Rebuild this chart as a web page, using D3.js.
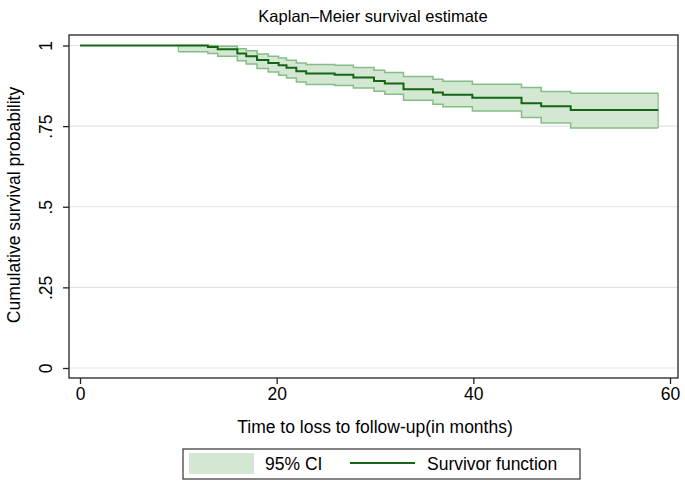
<!DOCTYPE html>
<html>
<head>
<meta charset="utf-8">
<script src="https://cdn.jsdelivr.net/npm/d3@7"></script>
<style>
  html, body { margin: 0; padding: 0; background: #fff; }
  text { font-family: "Liberation Sans", Arial, Helvetica, sans-serif; fill: #000; }
</style>
</head>
<body>
<svg id="chart" width="685" height="485"></svg>
<script>
// Kaplan–Meier step data (time in months, survival, 95% CI)
const times    = [0, 10, 13, 14, 16, 16.9, 18, 19.15, 20.2, 21, 22, 23, 25.9, 27.8, 29.9, 31, 32.9, 35.9, 36.9, 39.9, 44.9, 46.9, 49.9];
const survival = [1, 1, .995, .988, .975, .967, .955, .946, .939, .931, .920, .913, .909, .901, .890, .882, .864, .854, .847, .838, .821, .812, .800];
const ciLower  = [null, .981, .975, .967, .953, .943, .929, .918, .908, .899, .887, .879, .876, .868, .858, .849, .830, .818, .810, .797, .777, .760, .744];
const ciUpper  = [null, 1, 1, .998, .990, .984, .974, .967, .961, .954, .946, .941, .939, .932, .923, .916, .904, .895, .889, .880, .870, .857, .852];
const endTime  = 58.8;
const xTicks = [0, 20, 40, 60];
const yTicks = [0, .25, .5, .75, 1];
const yTickLabels = ["0", ".25", ".5", ".75", "1"];

const svg = d3.select("#chart");
const frame = {left: 69, right: 678, top: 35, bottom: 378};
const x = d3.scaleLinear().domain([0, 60]).range([80, 670]);
const y = d3.scaleLinear().domain([0, 1]).range([368, 45.5]);
const FS = 17.5;

// gridlines
svg.append("g").selectAll("line").data(yTicks).join("line")
  .attr("x1", frame.left).attr("x2", frame.right)
  .attr("y1", d => y(d)).attr("y2", d => y(d))
  .attr("stroke", "#e3e3e3").attr("stroke-width", 1.2);

// CI band
const ciData = times.map((t, i) => ({t, lo: ciLower[i], hi: ciUpper[i]})).filter(d => d.lo !== null);
ciData.push({t: endTime, lo: ciLower[ciLower.length - 1], hi: ciUpper[ciUpper.length - 1]});
const area = d3.area().curve(d3.curveStepAfter)
  .x(d => x(d.t)).y0(d => y(d.lo)).y1(d => y(d.hi));
svg.append("path").datum(ciData).attr("d", area)
  .attr("fill", "#d3e7d3").attr("stroke", "none");
const lineLo = d3.line().curve(d3.curveStepAfter).x(d => x(d.t)).y(d => y(d.lo));
const lineHi = d3.line().curve(d3.curveStepAfter).x(d => x(d.t)).y(d => y(d.hi));
svg.append("path").datum(ciData).attr("d", lineLo).attr("fill", "none").attr("stroke", "#86bd86").attr("stroke-width", 1.5);
svg.append("path").datum(ciData).attr("d", lineHi).attr("fill", "none").attr("stroke", "#86bd86").attr("stroke-width", 1.5);
svg.append("line").attr("x1", x(ciData[0].t)).attr("x2", x(ciData[0].t))
  .attr("y1", y(ciData[0].lo)).attr("y2", y(ciData[0].hi)).attr("stroke", "#86bd86").attr("stroke-width", 1.2);
const last = ciData[ciData.length - 1];
svg.append("line").attr("x1", x(last.t)).attr("x2", x(last.t))
  .attr("y1", y(last.lo)).attr("y2", y(last.hi)).attr("stroke", "#86bd86").attr("stroke-width", 1.2);

// survival line
const survData = times.map((t, i) => ({t, s: survival[i]}));
survData.push({t: endTime, s: survival[survival.length - 1]});
const survLine = d3.line().curve(d3.curveStepAfter).x(d => x(d.t)).y(d => y(d.s));
svg.append("path").datum(survData).attr("d", survLine)
  .attr("fill", "none").attr("stroke", "#146614").attr("stroke-width", 2);

// frame
svg.append("rect").attr("x", frame.left).attr("y", frame.top)
  .attr("width", frame.right - frame.left).attr("height", frame.bottom - frame.top)
  .attr("fill", "none").attr("stroke", "#222").attr("stroke-width", 1.3);

// x axis
const xAxis = d3.axisBottom(x).tickValues(xTicks).tickSize(6).tickPadding(4);
const gx = svg.append("g").attr("transform", `translate(0,${frame.bottom})`).call(xAxis);
gx.select(".domain").remove();
gx.selectAll("line").attr("stroke", "#222").attr("stroke-width", 1.3);
gx.selectAll("text").attr("font-size", FS).attr("fill", "#000")
  .style("font-family", '"Liberation Sans", Arial, sans-serif');

// y axis
const yAxis = d3.axisLeft(y).tickValues(yTicks).tickSize(6).tickFormat((d, i) => yTickLabels[i]);
const gy = svg.append("g").attr("transform", `translate(${frame.left},0)`).call(yAxis);
gy.select(".domain").remove();
gy.selectAll("line").attr("stroke", "#222").attr("stroke-width", 1.3);
gy.selectAll("text")
  .attr("font-size", FS).attr("fill", "#000")
  .style("font-family", '"Liberation Sans", Arial, sans-serif')
  .attr("x", null).attr("dy", null)
  .attr("text-anchor", "middle")
  .attr("transform", "translate(-17,0) rotate(-90)")
  .attr("y", 0);

// titles
svg.append("text").attr("x", 373).attr("y", 22).attr("text-anchor", "middle")
  .attr("font-size", 16.5).text("Kaplan–Meier survival estimate");
svg.append("text").attr("x", 375).attr("y", 433).attr("text-anchor", "middle")
  .attr("font-size", FS).text("Time to loss to follow-up(in months)");
svg.append("text").attr("transform", "translate(20,205) rotate(-90)").attr("text-anchor", "middle")
  .attr("font-size", FS).text("Cumulative survival probability");

// legend
const lg = svg.append("g");
lg.append("rect").attr("x", 183).attr("y", 449).attr("width", 397).attr("height", 30)
  .attr("fill", "#fff").attr("stroke", "#333").attr("stroke-width", 1.2);
lg.append("rect").attr("x", 189).attr("y", 453).attr("width", 65).attr("height", 21)
  .attr("fill", "#d3e7d3");
lg.append("text").attr("x", 265).attr("y", 470).attr("font-size", FS).text("95% CI");
lg.append("line").attr("x1", 350).attr("x2", 415).attr("y1", 463).attr("y2", 463)
  .attr("stroke", "#146614").attr("stroke-width", 2);
lg.append("text").attr("x", 427).attr("y", 470).attr("font-size", FS).text("Survivor function");
</script>
</body>
</html>
